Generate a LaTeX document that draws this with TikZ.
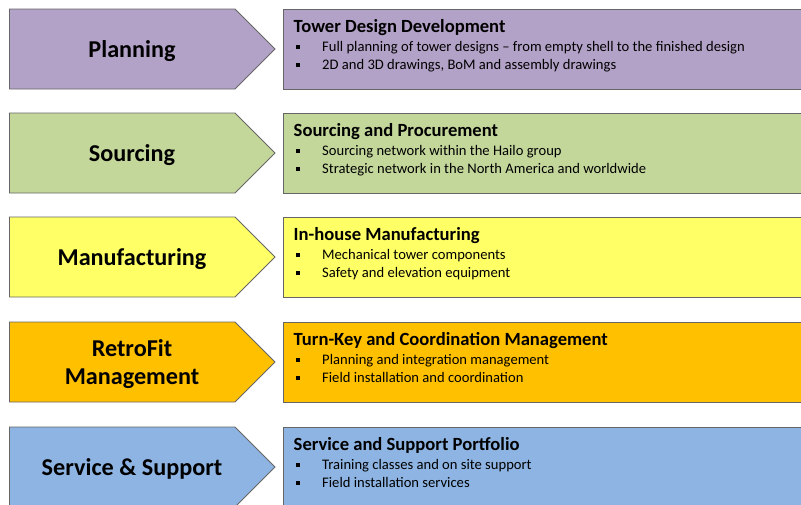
\documentclass[tikz,border=0pt]{standalone}
\usepackage{fontspec}
\setmainfont{Carlito}
\usepackage{tikz}

\definecolor{planfill}{HTML}{B3A2C7}
\definecolor{sourcefill}{HTML}{C4D79B}
\definecolor{makefill}{HTML}{FFFF66}
\definecolor{retrofill}{HTML}{FFC000}
\definecolor{servfill}{HTML}{8DB4E2}

\begin{document}
\begin{tikzpicture}[x=1pt,y=-1pt,
    outline/.style={draw=black!60,line width=0.8pt},
    stagelabel/.style={font=\fontsize{24.2}{28.5}\selectfont\bfseries,align=center},
    boxtitle/.style={anchor=base west,inner sep=0pt,font=\fontsize{18.6}{20}\selectfont\bfseries},
    boxitem/.style={anchor=base west,inner sep=0pt,font=\fontsize{14.6}{16}\selectfont},
    bulletmark/.style={fill=black,minimum size=4pt,inner sep=0pt}]
  \clip (0,0) rectangle (801,504);

  % Planning
  \draw[outline,fill=planfill] (9.5,9) -- (235,9) -- (275,49) -- (235,89) -- (9.5,89) -- cycle;
  \draw[outline,fill=planfill] (283,9) rectangle (815,89);
  \node[stagelabel] (plan) at (132,51) {Planning};
  \node[boxtitle] (plantitle) at (293.5,32.5) {Tower Design Development};
  \node[bulletmark] (planb1) at (297.5,47) {};
  \node[boxitem] (plani1) at (322,51.5) {Full planning of tower designs -- from empty shell to the finished design};
  \node[bulletmark] (planb2) at (297.5,65) {};
  \node[boxitem] (plani2) at (322,69.5) {2D and 3D drawings, BoM and assembly drawings};

  % Sourcing
  \draw[outline,fill=sourcefill] (9.5,113) -- (235,113) -- (275,153) -- (235,193) -- (9.5,193) -- cycle;
  \draw[outline,fill=sourcefill] (283,113) rectangle (815,193);
  \node[stagelabel] (source) at (132,155) {Sourcing};
  \node[boxtitle] (sourcetitle) at (293.5,136.5) {Sourcing and Procurement};
  \node[bulletmark] (sourceb1) at (297.5,151) {};
  \node[boxitem] (sourcei1) at (322,155.5) {Sourcing network within the Hailo group};
  \node[bulletmark] (sourceb2) at (297.5,169) {};
  \node[boxitem] (sourcei2) at (322,173.5) {Strategic network in the North America and worldwide};

  % Manufacturing
  \draw[outline,fill=makefill] (9.5,217) -- (235,217) -- (275,257) -- (235,297) -- (9.5,297) -- cycle;
  \draw[outline,fill=makefill] (283,217) rectangle (815,297);
  \node[stagelabel] (make) at (132,259) {Manufacturing};
  \node[boxtitle] (maketitle) at (293.5,240.5) {In-house Manufacturing};
  \node[bulletmark] (makeb1) at (297.5,255) {};
  \node[boxitem] (makei1) at (322,259.5) {Mechanical tower components};
  \node[bulletmark] (makeb2) at (297.5,273) {};
  \node[boxitem] (makei2) at (322,277.5) {Safety and elevation equipment};

  % RetroFit
  \draw[outline,fill=retrofill] (9.5,322) -- (235,322) -- (275,362) -- (235,402) -- (9.5,402) -- cycle;
  \draw[outline,fill=retrofill] (283,322) rectangle (815,402);
  \node[stagelabel] (retro) at (132,364) {RetroFit\\Management};
  \node[boxtitle] (retrotitle) at (293.5,345.5) {Turn-Key and Coordination Management};
  \node[bulletmark] (retrob1) at (297.5,360) {};
  \node[boxitem] (retroi1) at (322,364.5) {Planning and integration management};
  \node[bulletmark] (retrob2) at (297.5,378) {};
  \node[boxitem] (retroi2) at (322,382.5) {Field installation and coordination};

  % Service
  \draw[outline,fill=servfill] (9.5,427) -- (235,427) -- (275,467) -- (235,507) -- (9.5,507) -- cycle;
  \draw[outline,fill=servfill] (283,427) rectangle (815,507);
  \node[stagelabel] (serv) at (132,469) {Service \& Support};
  \node[boxtitle] (servtitle) at (293.5,450.5) {Service and Support Portfolio};
  \node[bulletmark] (servb1) at (297.5,465) {};
  \node[boxitem] (servi1) at (322,469.5) {Training classes and on site support};
  \node[bulletmark] (servb2) at (297.5,483) {};
  \node[boxitem] (servi2) at (322,487.5) {Field installation services};
\end{tikzpicture}
\end{document}
